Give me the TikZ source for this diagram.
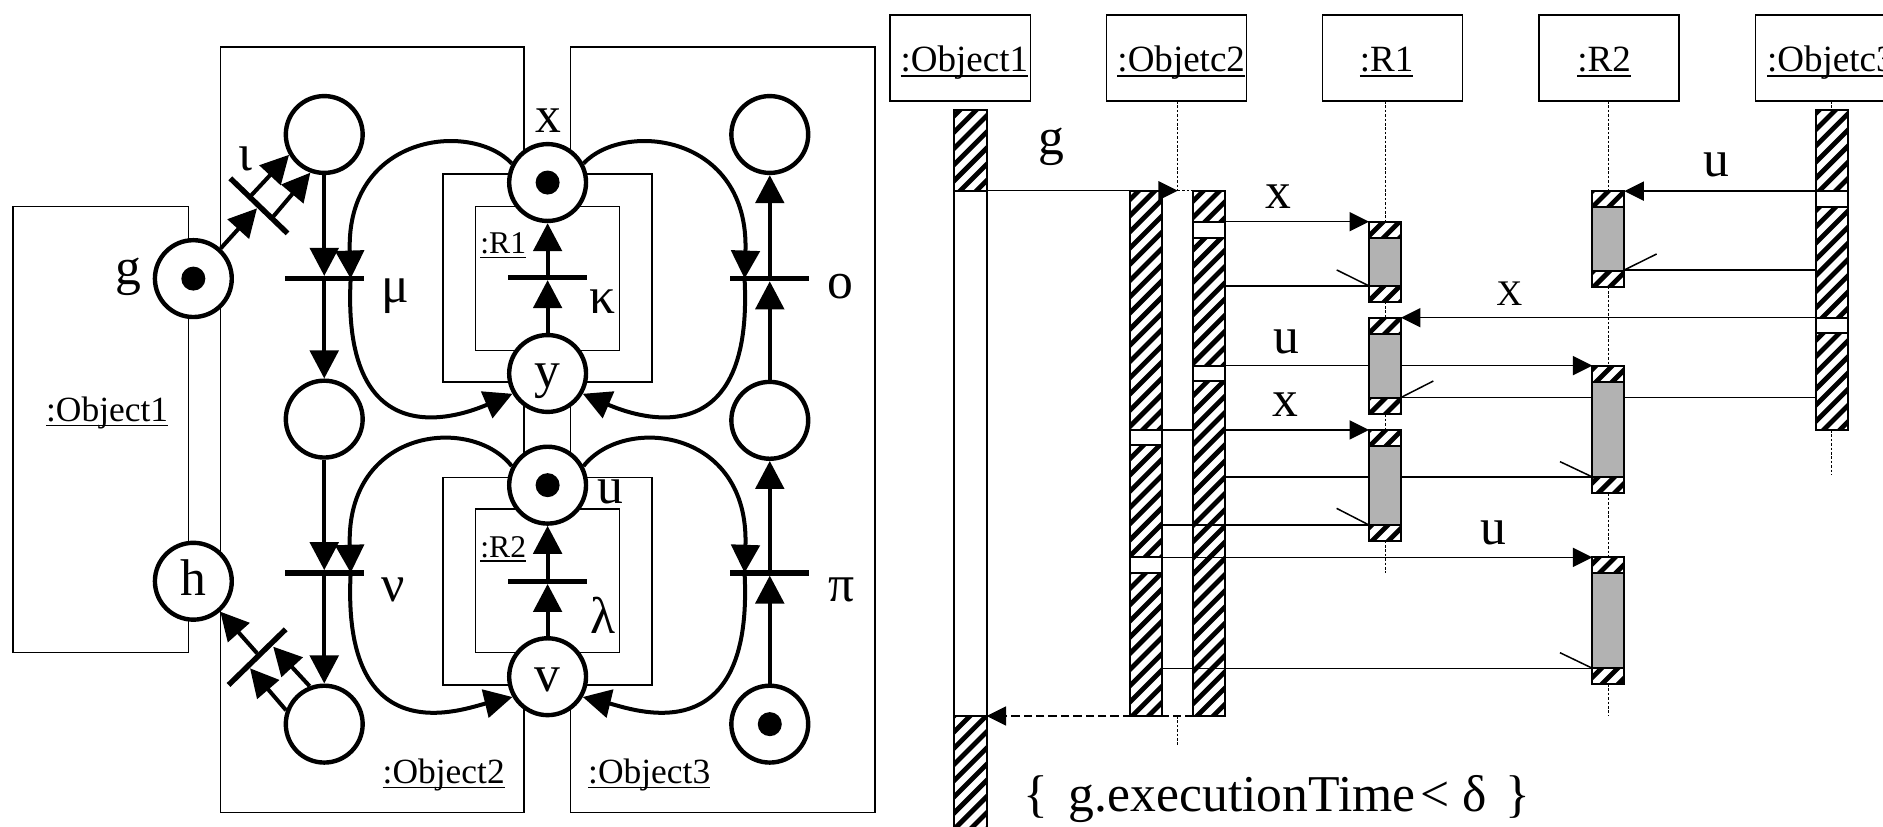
\documentclass[tikz,border=0pt]{standalone}
\usepackage{fontspec}
\setmainfont{Liberation Serif}
\usetikzlibrary{arrows.meta}

% underlined label with the rule close to the baseline
\newsavebox\ulbox
\newcommand\ulin[1]{\sbox\ulbox{#1}\rlap{\rule[-0.14em]{\wd\ulbox}{0.045em}}\usebox\ulbox}

% hatched segment of an activation bar: x1, y1, x2, y2
\newcommand\hatchseg[4]{%
  \begin{scope}
    \clip ({#1},{#2}) rectangle ({#3},{#4});
    \fill[white] ({#1},{#2}) rectangle ({#3},{#4});
    \pgfmathtruncatemacro\hlo{floor(((#1)+(#2))/13.5)-1}%
    \pgfmathtruncatemacro\hhi{ceil(((#3)+(#4))/13.5)+1}%
    \foreach \m in {\hlo,...,\hhi}{%
      \draw[line width=2.4pt] ({\m*13.5-(#4)-4},{(#4)+4}) -- ({\m*13.5-(#2)+4},{(#2)-4});
    }
  \end{scope}
  \draw[actline] ({#1},{#2}) rectangle ({#3},{#4});
}
\newcommand\blankseg[4]{\draw[actline,fill=white] ({#1},{#2}) rectangle ({#3},{#4});}
\newcommand\grayseg[4]{\draw[actline,fill=gray!60] ({#1},{#2}) rectangle ({#3},{#4});}
% activation: gray body with hatched caps; x1, x2, top, bottom
\newcommand\actbox[4]{%
  \pgfmathsetmacro\capA{#3+13.3}%
  \pgfmathsetmacro\capB{#4-13.3}%
  \grayseg{#1}{#3}{#2}{#4}
  \hatchseg{#1}{#3}{#2}{\capA}
  \hatchseg{#1}{\capB}{#2}{#4}}

\tikzset{
  thinbox/.style={draw, line width=0.75pt},
  place/.style={circle, draw, line width=2.2pt, fill=white, minimum size=38.4pt, inner sep=0pt},
  trans/.style={fill=black, minimum width=39.6pt, minimum height=2.7pt, inner sep=0pt, outer sep=0pt},
  pn/.style={line width=2pt, -{Triangle[width=14.2pt,length=14pt]}},
  slantbar/.style={line width=2.7pt},
  lbl/.style={inner sep=0pt, anchor=base, font=\fontsize{25.8}{30}\selectfont},
  caplbl/.style={inner sep=0pt, anchor=base, font=\fontsize{18}{22}\selectfont},
  objlbl/.style={inner sep=0pt, anchor=base, font=\fontsize{17.7}{21}\selectfont},
  rlbl/.style={inner sep=0pt, anchor=base, font=\fontsize{15.8}{19}\selectfont},
  hdrlbl/.style={inner sep=0pt, anchor=base, font=\fontsize{18.5}{22}\selectfont},
  hdrbox/.style={draw, line width=0.75pt},
  actline/.style={draw, line width=1pt},
  msg/.style={line width=0.75pt},
  msgarrow/.style={line width=0.75pt, -{Triangle[width=9.5pt,length=9.7pt]}},
  retarrow/.style={line width=0.8pt, dash pattern=on 4.2pt off 2pt, -{Triangle[width=9.5pt,length=9.7pt]}},
  lifeline/.style={line width=0.5pt, dash pattern=on 1.3pt off 0.9pt},
}

\begin{document}
\begin{tikzpicture}[x=0.6pt,y=-0.6pt]
\useasboundingbox (0,0) rectangle (1568,688);
\clip (0,0) rectangle (1568,688);

%% ---------------- Petri net of the objects ----------------
% containers
\draw[thinbox] (11,172) rectangle (157,543.5);
\draw[thinbox] (183.5,39) rectangle (436.3,676.7);
\draw[thinbox] (475,39) rectangle (728.6,676.7);
\draw[thinbox,fill=white] (369,145) rectangle (543,318);
\draw[thinbox,fill=white] (396,172) rectangle (516,292);
\draw[thinbox,fill=white] (369,397.5) rectangle (543,570.4);
\draw[thinbox,fill=white] (396,424) rectangle (516,543.5);

% places
\node[place] (g)  at (161,232) {};
\node[place] (h)  at (161,484) {};
\node[place] (p1) at (270,112) {};
\node[place] (p2) at (270,349) {};
\node[place] (p3) at (270,603) {};
\node[place] (q1) at (641,112) {};
\node[place] (q2) at (641,350) {};
\node[place] (q3) at (641,603) {};
\node[place] (x)  at (456,152) {};
\node[place] (y)  at (456,311) {};
\node[place] (u)  at (456,404) {};
\node[place] (v)  at (456,563.5) {};

% transitions
\node[trans] (mu)     at (270,232) {};
\node[trans] (nu)     at (270,477) {};
\node[trans] (omi)    at (641,232) {};
\node[trans] (pi)     at (641,477) {};
\node[trans] (kappa)  at (456,231) {};
\node[trans] (lambda) at (456,484) {};

% tokens
\foreach \t in {g,x,u,q3} \fill (\t.center) circle (6pt);

% vertical arcs
\draw[pn] (p1) -- (mu);
\draw[pn] (mu) -- (p2);
\draw[pn] (p2) -- (nu);
\draw[pn] (nu) -- (p3);
\draw[pn] (q3) -- (pi);
\draw[pn] (pi) -- (q2);
\draw[pn] (q2) -- (omi);
\draw[pn] (omi) -- (q1);
\draw[pn] (y) -- (kappa);
\draw[pn] (kappa) -- (x);
\draw[pn] (v) -- (lambda);
\draw[pn] (lambda) -- (u);

% loops through the resources
\coordinate (muR) at (292,232);
\coordinate (omiL) at (620,232);
\coordinate (nuR) at (292,477);
\coordinate (piL) at (620,477);
\draw[pn] (x.28) .. controls (520,100) and (624,112) .. (omiL);
\draw[pn] (omiL) .. controls (628,385) and (525,345) .. (y.-30);
\draw[pn] (x.152) .. controls (392,100) and (288,112) .. (muR);
\draw[pn] (muR) .. controls (284,385) and (387,345) .. (y.210);
\draw[pn] (u.28) .. controls (520,345) and (624,357) .. (piL);
\draw[pn] (piL) .. controls (628,630) and (525,590) .. (v.-30);
\draw[pn] (u.152) .. controls (392,345) and (288,357) .. (nuR);
\draw[pn] (nuR) .. controls (284,630) and (387,590) .. (v.210);

% transition iota (g to the first place of Object2)
\coordinate (i1) at (191.8,148.5);
\coordinate (i2) at (239.4,194.3);
\coordinate (iIn) at (214,173.5);
\coordinate (iOutA) at (208.2,163.8);
\coordinate (iOutB) at (227.5,180.4);
\draw[slantbar] (i1) -- (i2);
\draw[pn] (g) -- (iIn);
\draw[pn] (iOutA) -- (p1.210);
\draw[pn] (iOutB) -- (p1.250);

% transition back to h
\coordinate (j1) at (190.3,570.4);
\coordinate (j2) at (237.9,524.0);
\coordinate (jInA) at (208.2,556.5);
\coordinate (jInB) at (227.5,538.5);
\coordinate (jOut) at (214.1,544);
\draw[slantbar] (j1) -- (j2);
\draw[pn] (p3.160) -- (jInA);
\draw[pn] (p3.111) -- (jInB);
\draw[pn] (jOut) -- (h);

% labels
\node[lbl] (lg) at (107,236.5) {g};
\node[lbl] (lh) at (161,495.5) {h};
\node[lbl] (liota) at (204,142) {ι};
\node[lbl] (lmu) at (329,252) {μ};
\node[lbl] (lnu) at (327,501) {ν};
\node[lbl] (lx) at (457,110) {x};
\node[lbl] (ly) at (456,322.5) {y};
\node[lbl] (lkappa) at (502,261) {κ};
\node[lbl] (lomi) at (699.5,248.4) {ο};
\node[lbl] (lu) at (508.6,419) {u};
\node[lbl] (llambda) at (502,527.4) {λ};
\node[lbl] (lpi) at (701,501) {π};
\node[lbl] (lv) at (456,576) {v};
\node[objlbl] (lo1) at (89.2,351) {\ulin{:Object1}};
\node[objlbl] (lo2) at (369.5,652.3) {\ulin{:Object2}};
\node[objlbl] (lo3) at (540.6,652.3) {\ulin{:Object3}};
\node[rlbl] (lr1) at (419.1,211.5) {\ulin{:R1}};
\node[rlbl] (lr2) at (419.1,464.1) {\ulin{:R2}};

%% ---------------- sequence diagram ----------------
% headers
\draw[hdrbox] (741.1,12.5) rectangle (858.2,84.1);
\draw[hdrbox] (921.5,12.5) rectangle (1038.1,84.1);
\draw[hdrbox] (1101.4,12.5) rectangle (1218,84.1);
\draw[hdrbox] (1281.5,12.5) rectangle (1398.1,84.1);
\draw[hdrbox] (1462,12.5) rectangle (1578.6,84.1);
\node[hdrlbl] (h1) at (803,59.7) {\ulin{:Object1}};
\node[hdrlbl] (h2) at (983.6,59.7) {\ulin{:Objetc2}};
\node[hdrlbl] (h3) at (1154.7,59.7) {\ulin{:R1}};
\node[hdrlbl] (h4) at (1335.7,59.7) {\ulin{:R2}};
\node[hdrlbl,anchor=base west] (h5) at (1471.1,59.7) {\ulin{:Objetc3}};

% lifelines
\draw[lifeline] (980.7,84.1) -- (980.7,158.8);
\draw[lifeline] (980.7,596.2) -- (980.7,621.8);
\draw[lifeline] (1153.5,84.1) -- (1153.5,185.1);
\draw[lifeline] (1153.5,251.2) -- (1153.5,264.5);
\draw[lifeline] (1153.5,345) -- (1153.5,358);
\draw[lifeline] (1153.5,450.2) -- (1153.5,476.9);
\draw[lifeline] (1339.5,84.1) -- (1339.5,159.2);
\draw[lifeline] (1339.5,238.7) -- (1339.5,304.5);
\draw[lifeline] (1339.5,410.8) -- (1339.5,464.1);
\draw[lifeline] (1339.5,569.6) -- (1339.5,595.4);
\draw[lifeline] (1525.3,84.1) -- (1525.3,91.6);
\draw[lifeline] (1525.3,358) -- (1525.3,395.5);

% return of g (dashed) and the second x call, behind the Objetc2 bars
\draw[retarrow] (993.7,596.2) -- (821.6,596.2);
\draw[msgarrow] (967.4,358) -- (1140,358);

% Objetc2 activation bars
\hatchseg{941}{158.8}{967.4}{358}
\blankseg{941}{358}{967.4}{370.6}
\hatchseg{941}{370.6}{967.4}{464.1}
\blankseg{941}{464.1}{967.4}{477}
\hatchseg{941}{477}{967.4}{596.2}
\hatchseg{993.7}{158.8}{1020}{184.6}
\blankseg{993.7}{184.6}{1020}{197.9}
\hatchseg{993.7}{197.9}{1020}{304.5}
\blankseg{993.7}{304.5}{1020}{317.3}
\hatchseg{993.7}{317.3}{1020}{596.2}

% messages
\draw[msgarrow] (821.6,158.8) -- (980.7,158.8);
\draw[lifeline] (980.7,158.8) -- (993.7,158.8);
\draw[msgarrow] (1020,184.6) -- (1140,184.6);
\draw[msg] (1020,238.1) -- (1140,238.1);
\draw[msg] (1140,238.1) -- (1113.1,224.8);
\draw[msgarrow] (1512,264.5) -- (1166.6,264.5);
\draw[msgarrow] (1020,304.5) -- (1326,304.5);
\draw[msg] (1166.6,331) -- (1512,331);
\draw[msg] (1166.6,331) -- (1193.5,317.3);
\draw[msg] (1020,397.2) -- (1326,397.2);
\draw[msg] (1326,397.2) -- (1299,384.4);
\draw[msg] (967.4,437.2) -- (1140,437.2);
\draw[msg] (1140,437.2) -- (1113,423.3);
\draw[msgarrow] (967.4,464.1) -- (1326,464.1);
\draw[msg] (967.4,556.5) -- (1326,556.5);
\draw[msg] (1326,556.5) -- (1299,543.5);
\draw[msgarrow] (1512,159.2) -- (1352.6,159.2);
\draw[msg] (1352.6,224.8) -- (1512,224.8);
\draw[msg] (1352.6,224.8) -- (1379.5,211.5);

% Object1 bar
\hatchseg{794.4}{91.6}{821.6}{158.8}
\blankseg{794.4}{158.8}{821.6}{596.2}
\hatchseg{794.4}{596.2}{821.6}{700}

% Objetc3 bar
\hatchseg{1512}{91.6}{1538.6}{159.2}
\blankseg{1512}{159.2}{1538.6}{172.1}
\hatchseg{1512}{172.1}{1538.6}{264.5}
\blankseg{1512}{264.5}{1538.6}{277.6}
\hatchseg{1512}{277.6}{1538.6}{358}

% R1 and R2 activations
\actbox{1140}{1166.6}{185.1}{251.2}
\actbox{1140}{1166.6}{264.5}{345}
\actbox{1140}{1166.6}{358}{450.2}
\actbox{1326}{1352.6}{159.2}{238.7}
\actbox{1326}{1352.6}{304.5}{410.8}
\actbox{1326}{1352.6}{464.1}{569.6}

% message labels
\node[lbl] (mg) at (875.7,128.3) {g};
\node[lbl] (mx1) at (1064.5,173.5) {x};
\node[caplbl] (mX) at (1256.8,254.8) {X};
\node[lbl] (mu1) at (1071.4,294.2) {u};
\node[lbl] (mx2) at (1070,347) {x};
\node[lbl] (mu2) at (1243.5,453) {u};
\node[lbl] (mu3) at (1429.5,147.1) {u};

% timing constraint
\node[lbl,anchor=base west] (cons) at (852,676)
  {\{\hspace{0.4em}g.executionTime\hspace{0.1em}<\hspace{0.25em}δ\hspace{0.35em}\}};
\end{tikzpicture}
\end{document}
